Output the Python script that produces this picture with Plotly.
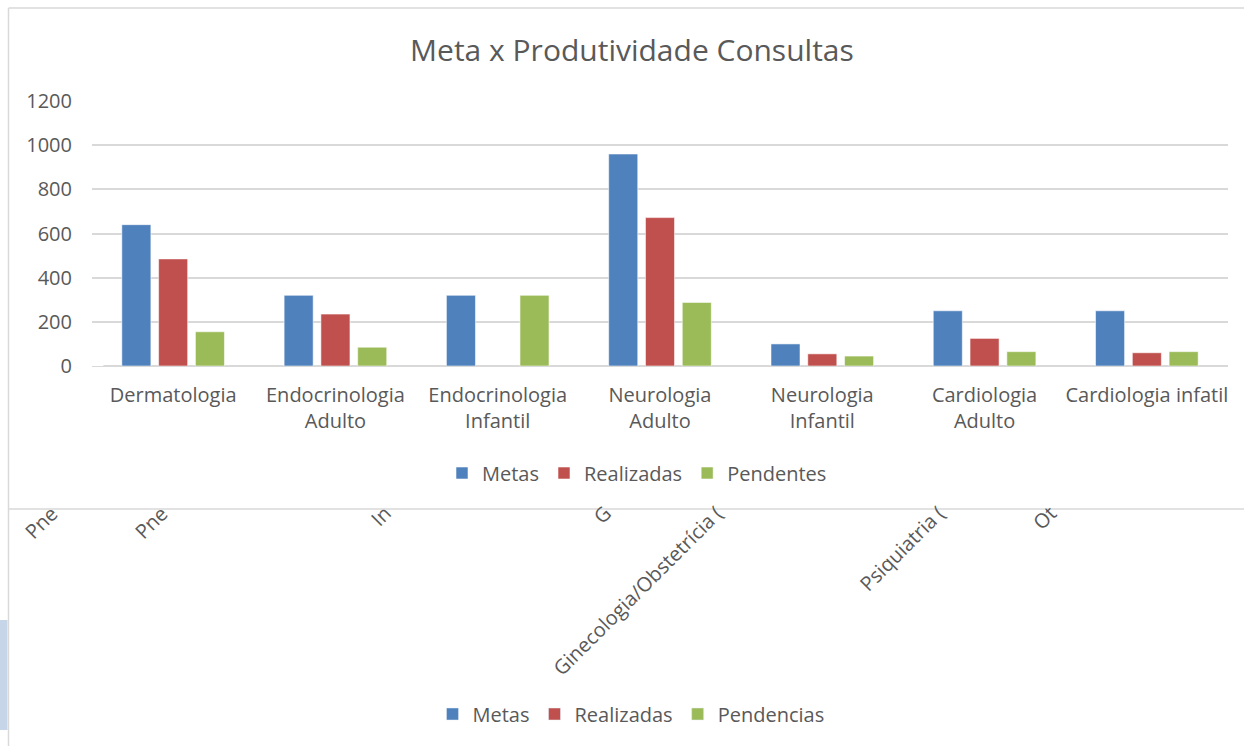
import plotly.graph_objects as go

categories = ["Dermatologia", "Endocrinologia<br>Adulto", "Endocrinologia<br>Infantil",
              "Neurologia<br>Adulto", "Neurologia<br>Infantil", "Cardiologia<br>Adulto",
              "Cardiologia infatil"]
metas = [640, 320, 320, 960, 100, 250, 250]
realizadas = [485, 235, None, 672, 55, 125, 60]
pendentes = [155, 85, 320, 288, 45, 65, 65]

# background chart (mostly hidden behind the front one)
back_labels = ["Pne", "Pne", "In", "G", "Ginecologia/Obstetrícia (", "Psiquiatria (", "Ot"]
back_series = ["Metas", "Realizadas", "Pendencias"]

COL = ["#4F81BD", "#C0504D", "#9BBB59"]
FONT = "Open Sans"
TXT = "#595959"
GRID = "#D9D9D9"

W, H = 1244, 746
L, R, T, B = 92, 16, 101, 380
PW, PH = W - L - R, H - T - B


def px(x):
    return (x - L) / PW


def py(y):
    return (H - B - y) / PH


fig = go.Figure()
for name, vals, c in zip(["Metas", "Realizadas", "Pendentes"], [metas, realizadas, pendentes], COL):
    fig.add_trace(go.Bar(x=categories, y=vals, name=name,
                         marker=dict(color=c, line=dict(color="rgba(255,255,255,0.55)", width=1)),
                         legend="legend"))

for name, c in zip(back_series, COL):
    fig.add_trace(go.Bar(x=[back_labels[0]], y=[None], name=name, marker=dict(color=c),
                         legend="legend2", showlegend=True, xaxis="x2", yaxis="y2"))

shapes = [
    # front panel border
    dict(type="line", xref="paper", yref="paper", x0=px(8.5), x1=px(1250), y0=py(8), y1=py(8), line=dict(color=GRID, width=1.5)),
    dict(type="line", xref="paper", yref="paper", x0=px(8.5), x1=px(1250), y0=py(509), y1=py(509), line=dict(color=GRID, width=1.5)),
    dict(type="line", xref="paper", yref="paper", x0=px(8.5), x1=px(8.5), y0=py(8), y1=py(750), line=dict(color=GRID, width=1.5)),
    # blue strip at left edge
    dict(type="rect", xref="paper", yref="paper", x0=px(-2), x1=px(7.5), y0=py(620), y1=py(730), fillcolor="#C6D5E8", line=dict(width=0)),
]

# clipped rotated labels of the back chart: (text, right x at clip line)
back_x = [58, 168, 392, 612, 723, 945, 1057]
annotations = []
for t, xx in zip(back_labels, back_x):
    annotations.append(dict(text=t, x=px(xx + 8), y=py(497), xref="paper", yref="paper", xanchor="right", yanchor="top",
                            textangle=-45, showarrow=False, font=dict(family=FONT, size=20, color=TXT)))

fig.update_layout(
    width=W, height=H,
    margin=dict(l=L, r=R, t=T, b=B),
    paper_bgcolor="white", plot_bgcolor="white",
    font=dict(family=FONT, color=TXT, size=20),
    title=dict(text="Meta x Produtividade Consultas", x=0.508, xanchor="center", y=1 - 50 / H, yanchor="middle",
               yref="container", font=dict(family=FONT, size=30, color=TXT)),
    barmode="group", bargap=0.32, bargroupgap=0.21,
    xaxis=dict(showgrid=False, showline=False, ticks="", tickfont=dict(size=20, color=TXT), ticklabelstandoff=15),
    yaxis=dict(range=[0, 1200], dtick=200, showgrid=True, gridcolor=GRID, gridwidth=1.5, zeroline=True, zerolinecolor=GRID,
               zerolinewidth=1.5, ticks="", tickfont=dict(size=20, color=TXT), ticklabelstandoff=19, showline=False),
    xaxis2=dict(visible=False, domain=[0, 0.01], anchor="y2"),
    yaxis2=dict(visible=False, domain=[0, 0.01], anchor="x2"),
    legend=dict(orientation="h", x=px(637), xanchor="center", y=py(473), yanchor="middle", font=dict(size=20, color=TXT),
                bgcolor="rgba(0,0,0,0)"),
    legend2=dict(orientation="h", x=px(631), xanchor="center", y=py(714), yanchor="middle", font=dict(size=20, color=TXT),
                 bgcolor="rgba(0,0,0,0)"),
    shapes=shapes,
    annotations=annotations,
    showlegend=True,
)

fig.write_html("out.html", config={"displayModeBar": False},
               post_script="document.body.style.margin='0';document.body.style.overflow='hidden';")
